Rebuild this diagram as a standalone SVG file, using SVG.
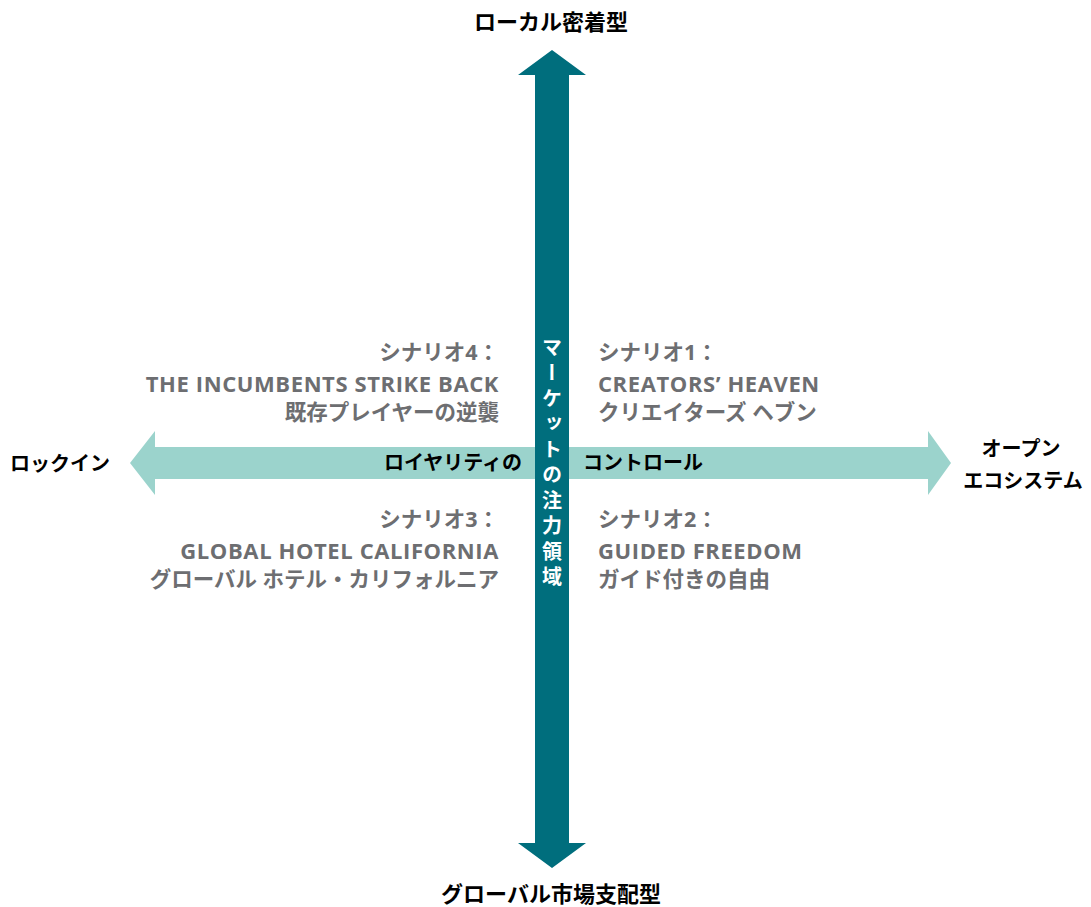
<svg xmlns="http://www.w3.org/2000/svg" width="1091" height="907" viewBox="0 0 1091 907">
<style>
.lbl{font-family:"Noto Sans CJK JP","Noto Sans",sans-serif;font-weight:700;fill:#000;}
.q{font-family:"Open Sans","Noto Sans CJK JP",sans-serif;font-weight:700;fill:#6d6e71;font-size:21.5px;}
.en{font-size:22px;letter-spacing:0.6px;}
.ax{font-family:"Noto Sans CJK JP",sans-serif;font-weight:700;font-size:20px;fill:#000;}
.vt{font-family:"Noto Sans CJK JP",sans-serif;font-weight:700;font-size:20px;fill:#fff;}
</style>
<rect width="1091" height="907" fill="#fff"/>
<g id="connectors">
<polygon id="h-axis" fill="#9bd3cc" points="130,463 155,431 155,447 928,447 928,431 951,463 928,495 928,479 155,479 155,495"/>
<polygon id="v-axis" fill="#006e7d" points="552,50 586,75 569,75 569,843 586,843 552,868 518,843 535,843 535,75 518,75"/>
</g>
<g id="axis-labels">
<text class="ax" x="453" y="470" text-anchor="middle">ロイヤリティの</text>
<text class="ax" x="583" y="470">コントロール</text>
<text class="vt" x="552" y="337" style="writing-mode:vertical-rl;letter-spacing:5.5px">マーケットの注力領域</text>
</g>
<g id="top"><text class="lbl" x="551" y="30" font-size="22" text-anchor="middle">ローカル密着型</text></g>
<g id="bottom"><text class="lbl" x="551" y="902" font-size="22" text-anchor="middle">グローバル市場支配型</text></g>
<g id="left"><text class="lbl" x="10" y="471" font-size="20">ロックイン</text></g>
<g id="right">
<text class="lbl" x="1021" y="456" font-size="20" text-anchor="middle">オープン</text>
<text class="lbl" x="1023" y="488" font-size="20" text-anchor="middle">エコシステム</text>
</g>
<g id="scenario4" text-anchor="end">
<text class="q" x="499" y="360">シナリオ4：</text>
<text class="q en" x="499" y="392">THE INCUMBENTS STRIKE BACK</text>
<text class="q" x="499" y="420">既存プレイヤーの逆襲</text>
</g>
<g id="scenario1">
<text class="q" x="598" y="360">シナリオ1：</text>
<text class="q en" x="598" y="392">CREATORS’ HEAVEN</text>
<text class="q" x="598" y="420">クリエイターズ ヘブン</text>
</g>
<g id="scenario3" text-anchor="end">
<text class="q" x="499" y="527">シナリオ3：</text>
<text class="q en" x="499" y="559">GLOBAL HOTEL CALIFORNIA</text>
<text class="q" x="499" y="587">グローバル ホテル・カリフォルニア</text>
</g>
<g id="scenario2">
<text class="q" x="598" y="527">シナリオ2：</text>
<text class="q en" x="598" y="559">GUIDED FREEDOM</text>
<text class="q" x="598" y="587">ガイド付きの自由</text>
</g>
</svg>
